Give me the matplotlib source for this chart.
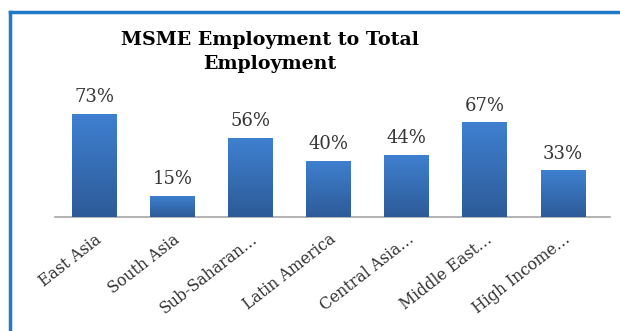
import matplotlib.pyplot as plt
import numpy as np
from matplotlib.lines import Line2D
from matplotlib.colors import LinearSegmentedColormap

# regions and their share of employment (%)
regions = ['East Asia', 'South Asia', 'Sub-Saharan…', 'Latin America',
           'Central Asia…', 'Middle East…', 'High Income…']
share = [73, 15, 56, 40, 44, 67, 33]

fig = plt.figure(figsize=(6.2, 3.31), dpi=100)
ax = fig.add_axes([55/620, 114/331, 555/620, 113/331])

x = np.arange(len(regions))
bars = ax.bar(x, share, width=0.575, color='#3670b8', zorder=2)

# vertical gradient on each bar
cmap = LinearSegmentedColormap.from_list('bl', ['#2d5b98', '#3f80d0'])
grad = np.linspace(0, 1, 100).reshape(-1, 1)
for b in bars:
    x0, y0 = b.get_x(), b.get_y()
    im = ax.imshow(grad, cmap=cmap, origin='lower', aspect='auto',
                   extent=[x0, x0 + b.get_width(), y0, y0 + b.get_height()], zorder=3)
    im.set_clip_path(b)

for xi, v in zip(x, share):
    ax.text(xi, v + 5.5, f'{v}%', ha='center', va='bottom', fontsize=13,
            family='DejaVu Serif', color='#353535')

ax.set_xlim(-0.5, len(regions) - 0.4)
ax.set_ylim(0, 80)
ax.set_yticks([])
for s in ['top', 'right', 'left']:
    ax.spines[s].set_visible(False)
ax.spines['bottom'].set_color('#a6a6a6')
ax.spines['bottom'].set_linewidth(1.2)

ax.set_xticks(x)
ax.set_xticklabels(regions, rotation=38, ha='right', va='top', rotation_mode='anchor',
                   fontsize=11.3, family='DejaVu Serif', color='#303030')
ax.tick_params(axis='x', length=0, pad=10)

fig.text(270/620, 1 - 31/331, 'MSME Employment to Total\nEmployment', ha='center', va='top',
         fontsize=13.7, fontweight='bold', family='DejaVu Serif', linespacing=1.45)

# blue frame (top and left edges visible)
fig.add_artist(Line2D([9.5/620, 1], [1 - 11.5/331] * 2, color='#1f78c8', lw=2.5,
                      transform=fig.transFigure))
fig.add_artist(Line2D([9.5/620] * 2, [0, 1 - 11.5/331], color='#1f78c8', lw=2.5,
                      transform=fig.transFigure))

plt.savefig('out.png', dpi=100)
